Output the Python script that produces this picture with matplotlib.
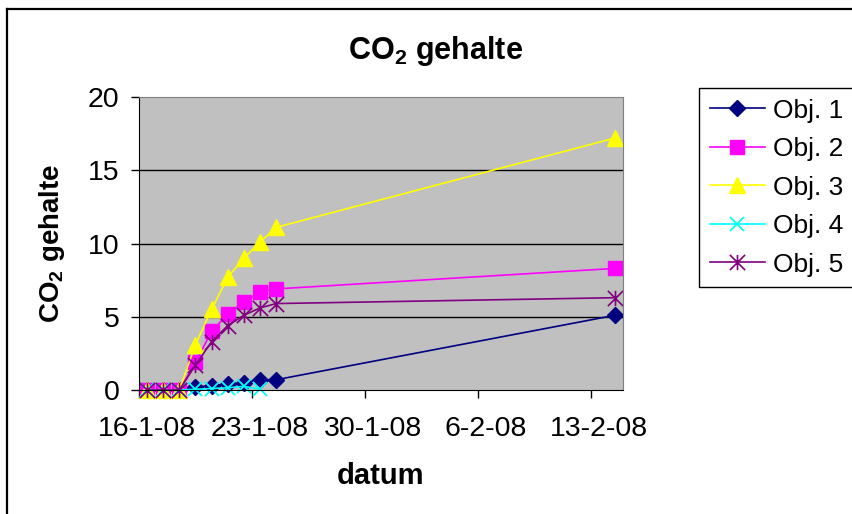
import datetime as dt
import numpy as np
import matplotlib
matplotlib.use("Agg")
import matplotlib.pyplot as plt
from matplotlib.path import Path
from matplotlib.lines import Line2D

plt.rcParams['font.family'] = ['Liberation Sans', 'DejaVu Sans']
plt.rcParams['mathtext.fontset'] = 'custom'
plt.rcParams['mathtext.rm'] = 'Liberation Sans:bold'
plt.rcParams['mathtext.default'] = 'rm'

# measurement days (dd-mm-2008)
dates = [dt.datetime(2008, 1, d) for d in range(16, 25)] + [dt.datetime(2008, 2, 14)]

obj1 = [0, 0, 0, 0.2, 0.3, 0.4, 0.5, 0.7, 0.7, 5.1]
obj2 = [0, 0, 0, 1.9, 4.0, 5.2, 6.0, 6.7, 6.9, 8.3]
obj3 = [0, 0, 0, 3.1, 5.5, 7.7, 9.0, 10.1, 11.1, 17.2]
obj4 = [0, 0, 0, 0.05, 0.1, 0.15, 0.25, 0.05]   # stops at 23-1
obj5 = [0, 0, 0, 1.7, 3.3, 4.4, 5.1, 5.6, 5.9, 6.3]

labels = ["Obj. 1", "Obj. 2", "Obj. 3", "Obj. 4", "Obj. 5"]
tick_dates = [dt.datetime(2008, 1, 16), dt.datetime(2008, 1, 23), dt.datetime(2008, 1, 30),
              dt.datetime(2008, 2, 6), dt.datetime(2008, 2, 13)]
tick_labels = ["16-1-08", "23-1-08", "30-1-08", "6-2-08", "13-2-08"]

# excel like asterisk: x plus vertical bar
star = Path([(0, -1), (0, 1), (-1, -1), (1, 1), (-1, 1), (1, -1)],
            [Path.MOVETO, Path.LINETO, Path.MOVETO, Path.LINETO, Path.MOVETO, Path.LINETO])

fig = plt.figure(figsize=(8.52, 5.14), dpi=100)
ax = fig.add_axes([139/852, 1-390/514, 484/852, 293/514])
ax.set_facecolor('#C0C0C0')

half = dt.timedelta(hours=12)
x = [d + half for d in dates]

ax.plot(x, obj1, color='#000080', lw=1.2, marker='D', ms=8, mec='#000080', mfc='#000080', clip_on=False, label=labels[0])
ax.plot(x, obj2, color='#FF00FF', lw=1.2, marker='s', ms=10, mec='#FF00FF', mfc='#FF00FF', clip_on=False, label=labels[1])
ax.plot(x, obj3, color='#FFFF00', lw=1.2, marker='^', ms=11.5, mec='#FFFF00', mfc='#FFFF00', clip_on=False, label=labels[2])
ax.plot(x[:len(obj4)], obj4, color='#00FFFF', lw=1.2, marker='x', ms=10, mew=1.3, clip_on=False, label=labels[3])
ax.plot(x, obj5, color='#800080', lw=1.2, marker=star, ms=11, mew=1.2, mfc='none', clip_on=False, label=labels[4])

ax.set_xlim(dt.datetime(2008, 1, 16), dt.datetime(2008, 2, 15))
ax.set_ylim(0, 20)
ax.set_yticks([0, 5, 10, 15, 20])
for yv in [5, 10, 15]:
    ax.axhline(yv, color='black', lw=1, zorder=0.5)

# tick marks between days, labels centred on the day
ax.set_xticks([dt.datetime(2008, 1, 16) + dt.timedelta(days=7*i) for i in range(5)])
ax.set_xticklabels([])
ax.set_xticks([d + half for d in tick_dates], minor=True)
ax.set_xticklabels(tick_labels, minor=True)
ax.tick_params(axis='x', which='major', length=6, width=1, direction='out')
ax.tick_params(axis='x', which='minor', length=0, pad=19, labelsize=20.5)
ax.tick_params(axis='y', length=6, width=1, pad=8, labelsize=20.5)

for s in ['top', 'right']:
    ax.spines[s].set_color('#808080')
for s in ['left', 'bottom']:
    ax.spines[s].set_color('black')

fig.text(436/852, 1-51/514, "CO$_2$ gehalte", ha='center', va='center', fontsize=22, fontweight='bold')
fig.text(52/852, 1-243/514, "CO$_2$ gehalte", ha='center', va='center', rotation=90, fontsize=20, fontweight='bold')
fig.text(380/852, 1-476/514, "datum", ha='center', va='center', fontsize=21, fontweight='bold')

leg = ax.legend(loc='upper left', bbox_to_anchor=(699/852, 1-88/514), bbox_transform=fig.transFigure,
                fontsize=19, frameon=True, fancybox=False, edgecolor='black', framealpha=1,
                handlelength=2.1, handletextpad=0.3, labelspacing=0.55, borderpad=0.4, borderaxespad=0)
leg.get_frame().set_linewidth(1)

# chart area border
fig.add_artist(Line2D([7/852, 1], [1-9/514, 1-9/514], transform=fig.transFigure, color='black', lw=1.6))
fig.add_artist(Line2D([7/852, 7/852], [0, 1-9/514], transform=fig.transFigure, color='black', lw=1.6))

plt.savefig("out.png", dpi=100)
